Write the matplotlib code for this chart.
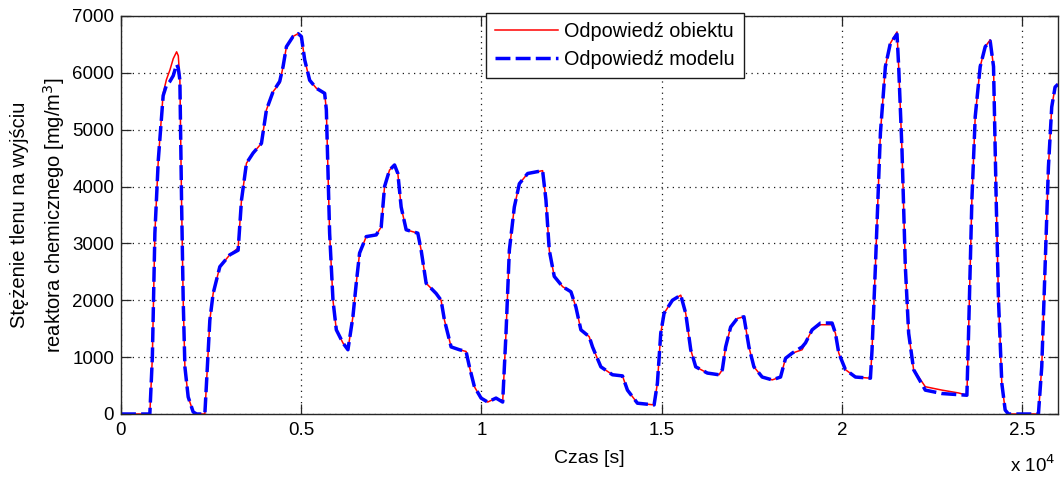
import matplotlib
matplotlib.use("Agg")
import matplotlib.pyplot as plt
from matplotlib.ticker import FuncFormatter, MultipleLocator

plt.rcParams["font.family"] = ["Liberation Sans", "DejaVu Sans"]

# time [s] and oxygen concentration [mg/m3]
czas = [
    0, 800, 870, 940, 1035, 1170, 1260, 1357, 1450, 1543, 1590, 1634, 1680,
    1726, 1773, 1864, 2003, 2100, 2327, 2373, 2465, 2557, 2742, 3019, 3250,
    3343, 3481, 3666, 3897, 4036, 4220, 4404, 4497, 4590, 4774, 4912, 5005,
    5097, 5235, 5420, 5651, 5698, 5789, 5882, 5975, 6158, 6297, 6435, 6528,
    6620, 6805, 7082, 7220, 7313, 7451, 7590, 7682, 7774, 7913, 8236, 8329,
    8467, 8744, 8882, 8975, 9160, 9391, 9575, 9668, 9806, 9991, 10175, 10406,
    10591, 10683, 10776, 10914, 11053, 11284, 11699, 11792, 11884, 12022,
    12253, 12485, 12623, 12761, 12992, 13084, 13315, 13638, 13915, 14053,
    14330, 14792, 14884, 14977, 15069, 15300, 15532, 15670, 15809, 15947,
    16271, 16593, 16686, 16778, 16917, 17100, 17285, 17424, 17562, 17792,
    18070, 18301, 18440, 18623, 18900, 18993, 19177, 19410, 19731, 19824,
    19917, 20102, 20379, 20795, 20840, 20933, 21072, 21210, 21348, 21533,
    21579, 21671, 21764, 21856, 21994, 22318, 22780, 23241, 23472, 23518,
    23610, 23703, 23841, 23980, 24118, 24211, 24285, 24349, 24441, 24534,
    24626, 25457, 25549, 25642, 25734, 25826, 25919, 26000,
]
obiekt = [
    0, 0, 1000, 3180, 4470, 5640, 5880, 6050, 6250, 6370, 6300, 5870, 3760,
    2000, 830, 300, 35, 0, 0, 540, 1650, 2120, 2590, 2800, 2920,
    3760, 4410, 4590, 4760, 5350, 5670, 5820, 6110, 6460, 6640, 6690, 6640,
    6230, 5870, 5730, 5640, 5350, 3180, 2000, 1480, 1250, 1130, 1710, 2300,
    2830, 3120, 3150, 3290, 4000, 4290, 4380, 4230, 3640, 3240, 3180, 2880,
    2300, 2120, 2000, 1650, 1180, 1130, 1100, 830, 480, 280, 210, 280,
    210, 1420, 2880, 3640, 4050, 4230, 4280, 3760, 2880, 2420,
    2240, 2150, 1880, 1480, 1360, 1180, 830, 690, 670, 420,
    190, 160, 540, 1420, 1770, 2000, 2090, 1770, 1130, 830,
    720, 690, 780, 1180, 1530, 1680, 1710, 1180, 830, 650,
    600, 650, 980, 1070, 1130, 1250, 1480, 1570, 1570, 1420,
    1070, 780, 650, 630, 1130, 2590, 4940, 6110, 6520, 6720,
    6110, 4640, 2590, 1420, 780, 480, 420, 370, 330, 1420,
    3760, 5230, 6110, 6460, 6580, 6110, 3760, 2000, 540, 70,
    0, 0, 830, 2590, 4340, 5400, 5750, 5800,
]
model = [
    0, 0, 1000, 3180, 4470, 5600, 5780, 5850, 5950, 6150, 6080, 5870, 3760,
    2000, 830, 300, 35, 0, 0, 540, 1650, 2120, 2590, 2800, 2880,
    3760, 4410, 4590, 4760, 5350, 5670, 5850, 6110, 6460, 6640, 6690, 6640,
    6230, 5870, 5730, 5640, 5350, 3180, 2000, 1480, 1250, 1130, 1710, 2300,
    2830, 3120, 3150, 3290, 4000, 4290, 4380, 4230, 3640, 3240, 3180, 2880,
    2300, 2120, 2000, 1650, 1180, 1130, 1100, 830, 480, 280, 210, 280,
    210, 1420, 2880, 3640, 4050, 4230, 4280, 3760, 2880, 2420,
    2240, 2150, 1880, 1480, 1360, 1180, 830, 690, 670, 420,
    190, 160, 540, 1420, 1770, 2000, 2090, 1770, 1130, 830,
    720, 690, 780, 1180, 1530, 1680, 1710, 1180, 830, 650,
    600, 650, 980, 1070, 1180, 1250, 1480, 1600, 1600, 1420,
    1070, 780, 650, 630, 1130, 2590, 4940, 6110, 6520, 6680,
    6110, 4640, 2590, 1420, 780, 420, 360, 340, 330, 1420,
    3760, 5230, 6110, 6460, 6560, 6110, 3760, 2000, 540, 70,
    0, 0, 830, 2590, 4340, 5400, 5750, 5800,
]

fig = plt.figure(figsize=(10.61, 4.79), dpi=100)
ax = fig.add_axes([121 / 1061, 65 / 479, 937 / 1061, 398 / 479])

ax.plot(czas, obiekt, color="#ff0000", linewidth=1.1, label="Odpowiedź obiektu")
ax.plot(czas, model, color="#0000ff", linewidth=2.5, dashes=(4.3, 1.5),
        label="Odpowiedź modelu")

ax.set_xlim(0, 26000)
ax.set_ylim(0, 7000)
ax.xaxis.set_major_locator(MultipleLocator(5000))
ax.yaxis.set_major_locator(MultipleLocator(1000))
ax.xaxis.set_major_formatter(FuncFormatter(lambda v, _: f"{v / 1e4:g}"))
ax.grid(True, color="0.1", linestyle=(0, (1, 3.5)), linewidth=0.9)
ax.tick_params(direction="in", length=7, width=0.9, top=True, right=True,
               labelsize=13.5, colors="0.15", labelcolor="black")
ax.tick_params(axis="x", pad=6)
ax.tick_params(axis="y", pad=5)
for side in ax.spines.values():
    side.set_linewidth(1.0)
    side.set_color("0.15")

ax.set_xlabel("Czas [s]", fontsize=14, labelpad=8)
ax.set_ylabel("Stężenie tlenu na wyjściu\nreaktora chemicznego [mg/m$^3$]",
              fontsize=14.5, linespacing=1.6)
ax.yaxis.set_label_coords(-0.058, 0.5)

fig.text(1010 / 1061, 1 - 472 / 479, r"x 10$^4$", fontsize=13.5, ha="left",
         va="baseline")

leg = ax.legend(loc="upper left", bbox_to_anchor=(486 / 1061, 1 - 13 / 479),
                bbox_transform=fig.transFigure, borderaxespad=0, fontsize=14.3,
                handlelength=3.2, handletextpad=0.3, borderpad=0.45,
                labelspacing=0.45, fancybox=False, framealpha=1)
leg.get_frame().set_edgecolor("0.1")
leg.get_frame().set_linewidth(1.0)

fig.savefig("out.png", dpi=100)
